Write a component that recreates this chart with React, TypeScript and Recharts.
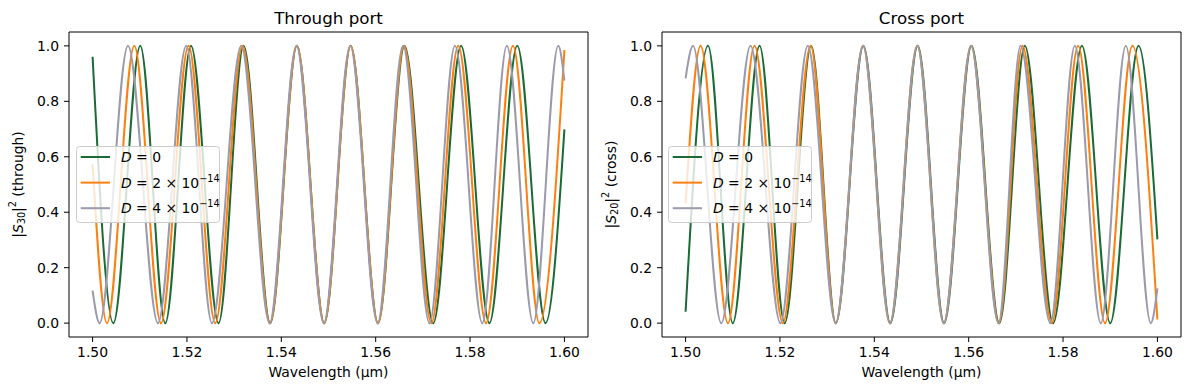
import React from 'react';
import { LineChart, Line, XAxis, YAxis, Legend, ReferenceArea } from 'recharts';

const FONT = '"DejaVu Sans", "Liberation Sans", sans-serif';
const FS = 13.9;

const xTicks = [1.5, 1.52, 1.54, 1.56, 1.58, 1.6];
const yTicks = [0, 0.2, 0.4, 0.6, 0.8, 1.0];
const xDomain = [1.495, 1.605];
const yDomain = [-0.05, 1.05];

const seriesColors = ['#1a6a36', '#ff7f0e', '#9a9aac'];
const legendCoef = ['0', '2', '4'];
const legendExp = ['', '−14', '−14'];

// Through port (|S30|^2): wavelengths of read points and values
const throughD0Wl = [1.5, 1.5044, 1.5101, 1.5154, 1.52085, 1.5267, 1.532, 1.53765, 1.5433, 1.5491, 1.5547, 1.5605, 1.5661, 1.5722, 1.5781, 1.5841, 1.59, 1.596, 1.6];
const throughD0Val = [0.961, 0, 1, 0, 1, 0, 1, 0, 1, 0, 1, 0, 1, 0, 1, 0, 1, 0, 0.699];
const throughD2Wl = [1.5, 1.50305, 1.50884, 1.51449, 1.52034, 1.526, 1.53178, 1.5376, 1.5433, 1.5491, 1.5547, 1.5605, 1.566, 1.5718, 1.5775, 1.5834, 1.5891, 1.5947, 1.6];
const throughD2Val = [0.573, 0, 1, 0, 1, 0, 1, 0, 1, 0, 1, 0, 1, 0, 1, 0, 1, 0, 0.985];
const throughD4Wl = [1.5, 1.50148, 1.5075, 1.51386, 1.51985, 1.5253, 1.5315, 1.5375, 1.5432, 1.549, 1.5546, 1.5604, 1.5658, 1.5714, 1.5768, 1.5826, 1.5878, 1.5934, 1.5987, 1.6];
const throughD4Val = [0.117, 0, 1, 0, 1, 0, 1, 0, 1, 0, 1, 0, 1, 0, 1, 0, 1, 0, 1, 0.875];

// Cross port (|S20|^2)
const crossD0Wl = [1.5, 1.50475, 1.51, 1.51567, 1.521, 1.5266, 1.53185, 1.53768, 1.5434, 1.5492, 1.5548, 1.5606, 1.5665, 1.5719, 1.5779, 1.584, 1.59, 1.596, 1.6];
const crossD0Val = [0.041, 1, 0, 1, 0, 1, 0, 1, 0, 1, 0, 1, 0, 1, 0, 1, 0, 1, 0.302];
const crossD2Wl = [1.5, 1.50318, 1.50898, 1.51461, 1.52061, 1.5265, 1.5318, 1.5376, 1.5433, 1.5491, 1.5547, 1.5605, 1.5664, 1.5714, 1.5776, 1.5832, 1.5889, 1.5947, 1.6];
const crossD2Val = [0.432, 1, 0, 1, 0, 1, 0, 1, 0, 1, 0, 1, 0, 1, 0, 1, 0, 1, 0.013];
const crossD4Wl = [1.5, 1.50157, 1.50756, 1.51376, 1.5201, 1.5259, 1.5318, 1.5376, 1.5433, 1.5491, 1.5547, 1.5605, 1.5663, 1.571, 1.5773, 1.5825, 1.588, 1.5933, 1.5986, 1.6];
const crossD4Val = [0.883, 1, 0, 1, 0, 1, 0, 1, 0, 1, 0, 1, 0, 1, 0, 1, 0, 1, 0, 0.125];

const zip = (wl: number[], val: number[]) => wl.map((x, i) => ({ x, y: val[i] }));

const throughSeries = [zip(throughD0Wl, throughD0Val), zip(throughD2Wl, throughD2Val), zip(throughD4Wl, throughD4Val)];
const crossSeries = [zip(crossD0Wl, crossD0Val), zip(crossD2Wl, crossD2Val), zip(crossD4Wl, crossD4Val)];

const LegendBox = () => (
  <svg width={145} height={78} style={{ display: 'block', overflow: 'visible' }}>
    <rect x={0.5} y={0.5} width={143} height={76} rx={3} ry={3} fill="rgba(255,255,255,0.8)" stroke="#cccccc" strokeWidth={1} />
    {seriesColors.map((c, i) => {
      const cy = 11 + i * 25.6;
      return (
        <g key={i}>
          <line x1={4.7} x2={34} y1={cy} y2={cy} stroke={c} strokeWidth={2} />
          <text x={45} y={cy + 5} fontFamily={FONT} fontSize={FS} fill="#000">
            <tspan fontStyle="italic">D</tspan>
            <tspan>{' = ' + legendCoef[i]}</tspan>
            {legendExp[i] ? <tspan>{' × 10'}</tspan> : null}
            {legendExp[i] ? (
              <tspan dy={-6} fontSize={FS * 0.7}>{legendExp[i]}</tspan>
            ) : null}
          </text>
        </g>
      );
    })}
  </svg>
);

type PanelProps = {
  series: { x: number; y: number }[][];
  title: string;
  sub: string;
  paren: string;
  left: number;
  width: number;
  yAxisWidth: number;
  marginRight: number;
  legendLeft: number;
  yLabelX: number;
};

const Panel = ({ series, title, sub, paren, left, width, yAxisWidth, marginRight, legendLeft, yLabelX }: PanelProps) => {
  const plotLeft = yAxisWidth;
  const plotRight = width - marginRight;
  const cx = (plotLeft + plotRight) / 2;
  const cy = (32 + 337) / 2;
  return (
    <div style={{ position: 'absolute', left, top: 0 }}>
      <LineChart width={width} height={390} margin={{ top: 32, right: marginRight, bottom: 0, left: 0 }}>
        <XAxis
          type="number"
          dataKey="x"
          domain={xDomain}
          ticks={xTicks}
          allowDataOverflow
          height={53}
          tickFormatter={(v: number) => v.toFixed(2)}
          tick={{ fill: '#000', fontSize: FS, fontFamily: FONT }}
          tickLine={{ stroke: '#000', strokeWidth: 1 }}
          tickSize={5}
          tickMargin={5}
          axisLine={false}
        />
        <YAxis
          type="number"
          dataKey="y"
          domain={yDomain}
          ticks={yTicks}
          allowDataOverflow
          width={yAxisWidth}
          tickFormatter={(v: number) => v.toFixed(1)}
          tick={{ fill: '#000', fontSize: FS, fontFamily: FONT }}
          tickLine={{ stroke: '#000', strokeWidth: 1 }}
          tickSize={5}
          tickMargin={5}
          axisLine={false}
        />
        {series.map((d, i) => (
          <Line
            key={i}
            data={d}
            dataKey="y"
            type="monotone"
            stroke={seriesColors[i]}
            strokeWidth={2}
            dot={false}
            activeDot={false}
            isAnimationActive={false}
          />
        ))}
        <ReferenceArea
          x1={xDomain[0]}
          x2={xDomain[1]}
          y1={yDomain[0]}
          y2={yDomain[1]}
          fill="none"
          fillOpacity={0}
          stroke="#000"
          strokeWidth={1}
          ifOverflow="visible"
        />
        <Legend
          layout="vertical"
          align="center"
          verticalAlign="middle"
          content={() => <LegendBox />}
          wrapperStyle={{ left: legendLeft, top: 146, width: 145, height: 78 }}
        />
        <text x={cx} y={24} textAnchor="middle" fontFamily={FONT} fontSize={16.7} fill="#000">
          {title}
        </text>
        <text x={cx} y={377} textAnchor="middle" fontFamily={FONT} fontSize={FS} fill="#000">
          Wavelength (µm)
        </text>
        <text
          x={yLabelX}
          y={cy}
          textAnchor="middle"
          fontFamily={FONT}
          fontSize={FS}
          fill="#000"
          transform={`rotate(-90, ${yLabelX}, ${cy})`}
          dominantBaseline="middle"
        >
          <tspan>|</tspan>
          <tspan fontStyle="italic">S</tspan>
          <tspan dy={3} fontSize={FS * 0.7}>{sub}</tspan>
          <tspan dy={-3}>|</tspan>
          <tspan dy={-6} fontSize={FS * 0.7}>2</tspan>
          <tspan dy={6}>{' ' + paren}</tspan>
        </text>
      </LineChart>
    </div>
  );
};

export default function App() {
  return (
    <div style={{ position: 'absolute', left: 0, top: 0, width: 1189, height: 390, background: '#fff' }}>
      <Panel
        series={throughSeries}
        title="Through port"
        sub="30"
        paren="(through)"
        left={0}
        width={594}
        yAxisWidth={69}
        marginRight={6}
        legendLeft={76}
        yLabelX={19}
      />
      <Panel
        series={crossSeries}
        title="Cross port"
        sub="20"
        paren="(cross)"
        left={594}
        width={595}
        yAxisWidth={68}
        marginRight={8}
        legendLeft={74}
        yLabelX={18}
      />
    </div>
  );
}
